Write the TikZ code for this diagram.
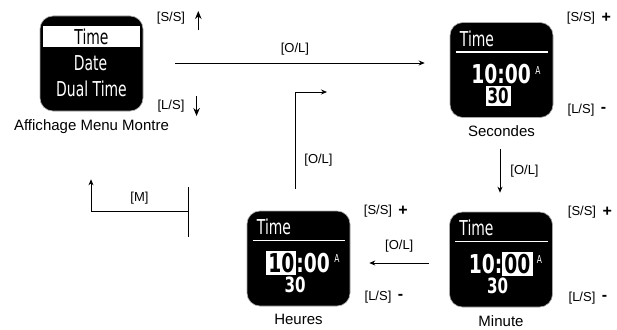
\documentclass[tikz,border=0pt]{standalone}
\usepackage{fontspec}
\setmainfont{Liberation Sans}
\newfontfamily\lcdtext[FakeStretch=0.68]{DejaVu Sans}
\newfontfamily\lcdnum[FakeStretch=0.72]{DejaVu Sans Bold}
\usetikzlibrary{arrows.meta, calc, positioning}
\newcommand{\hilite}[1]{{\setlength{\fboxsep}{2pt}\colorbox{white}{\textcolor{black}{#1}}}}

\begin{document}
\begin{tikzpicture}[x=1pt, y=-1pt,
        screen/.style={rectangle, rounded corners=13pt, fill=black, draw=black!35, line width=0.6pt, minimum width=103pt, minimum height=95pt, inner sep=0pt},
        lcd/.style={text=white, inner sep=0pt, font=\lcdtext\fontsize{20.5}{22}\selectfont},
        digits/.style={text=white, inner sep=0pt, font=\lcdnum\fontsize{26}{28}\selectfont},
        caption/.style={inner sep=0pt, font=\fontsize{15}{18}\selectfont},
        key/.style={inner sep=1pt, font=\fontsize{13}{15}\selectfont},
        sign/.style={inner sep=1pt, font=\bfseries\fontsize{16}{18}\selectfont},
        flow/.style={-{Stealth[length=6pt,width=5pt]}, line width=0.8pt},
        updown/.style={-{Stealth[length=8pt,width=6.5pt]}, line width=1.2pt}]
    \useasboundingbox (0,0) rectangle (617,329);

    % watch screens
    \node[screen] (menu) at (91.5,63.5) {};
    \node[screen] (sec) at (501.5,70) {};
    \node[screen] (min) at (501,259.5) {};
    \node[screen] (hr) at (298.5,258.5) {};

    \node[caption, below=8pt of menu] (menucap) {Affichage Menu Montre};
    \node[caption, below=8pt of sec] (seccap) {Secondes};
    \node[caption, below=8pt of min] (mincap) {Minute};
    \node[caption, below=8pt of hr] (hrcap) {Heures};

    % menu screen
    \node[lcd, fill=white, text=black, minimum width=97pt, minimum height=21pt, anchor=north] (menutime) at ($(menu.north)+(0,10)$) {Time};
    \node[lcd] (menudate) at ($(menu.center)+(-1,0)$) {Date};
    \node[lcd] (menudual) at ($(menu.center)+(0,25)$) {Dual Time};

    % time screens
    \foreach \scr/\hh/\mm/\ss in {sec/10/00/{\hilite{30}}, min/10/{\hilite{00}}/30, hr/{\hilite{10}}/00/30}{
        \node[lcd, anchor=west] (\scr title) at ($(\scr.north west)+(10,16.5)$) {Time};
        \draw[white, line width=1.5pt] ($(\scr.north west)+(6,30)$) -- ($(\scr.north east)+(-5,30)$);
        \node[digits] (\scr clock) at ($(\scr.north west)+(51.5,52)$) {\hh:\mm};
        \node[lcd, font=\lcdtext\fontsize{11}{12}\selectfont, anchor=west] (\scr ampm) at ($(\scr clock.east)+(4,-4)$) {A};
        \node[digits, font=\lcdnum\fontsize{21}{22}\selectfont] (\scr secs) at ($(\scr.north west)+(48.5,74)$) {\ss};
    }

    % buttons
    \node[key] (menuss) at (171,18) {[S/S]};
    \node[key] (menuls) at (171,106) {[L/S]};
    \draw[updown] ($(menuss.east)+(12,12)$) -- ++(0,-19);
    \draw[updown] ($(menuls.east)+(11,-10)$) -- ++(0,20);

    \node[key] (secss) at (581,18) {[S/S]};
    \node[sign, right=4pt of secss] (secplus) {+};
    \node[key] (secls) at (581,110) {[L/S]};
    \node[sign, right=4pt of secls] (secminus) {-};

    \node[key] (minss) at (582,212) {[S/S]};
    \node[sign, right=4pt of minss] (minplus) {+};
    \node[key] (minls) at (582,298) {[L/S]};
    \node[sign, right=4pt of minls] (minminus) {-};

    \node[key] (hrss) at (378,211) {[S/S]};
    \node[sign, right=4pt of hrss] (hrplus) {+};
    \node[key] (hrls) at (378,297) {[L/S]};
    \node[sign, right=4pt of hrls] (hrminus) {-};

    % transitions
    \coordinate (olstart) at (175,63);
    \coordinate (olend) at (327,92);
    \coordinate (mbar) at (188,211);

    \draw[flow] (olstart) -- ($(sec.west |- olstart)+(-25,0)$) node[key, pos=0.48, above=6pt] {[O/L]};
    \draw[flow] ($(sec.south)+(-1.5,31)$) -- ($(min.north)+(-1,-19)$) node[key, midway, right=9pt] {[O/L]};
    \draw[flow] ($(min.west)+(-20,3.5)$) -- ($(hr.east)+(19,4.5)$) node[key, midway, above=9pt] {[O/L]};
    \draw[flow] ($(hr.north)+(-3.5,-22)$) |- (olend) node[key, pos=0.15, right=8pt] {[O/L]};

    \draw[line width=0.8pt] ($(mbar)+(0,-24)$) -- ($(mbar)+(0,26)$);
    \draw[flow] (mbar) -| ($(menu.south)+(-0.5,68)$) node[key, pos=0.25, above=5pt] {[M]};
\end{tikzpicture}
\end{document}
